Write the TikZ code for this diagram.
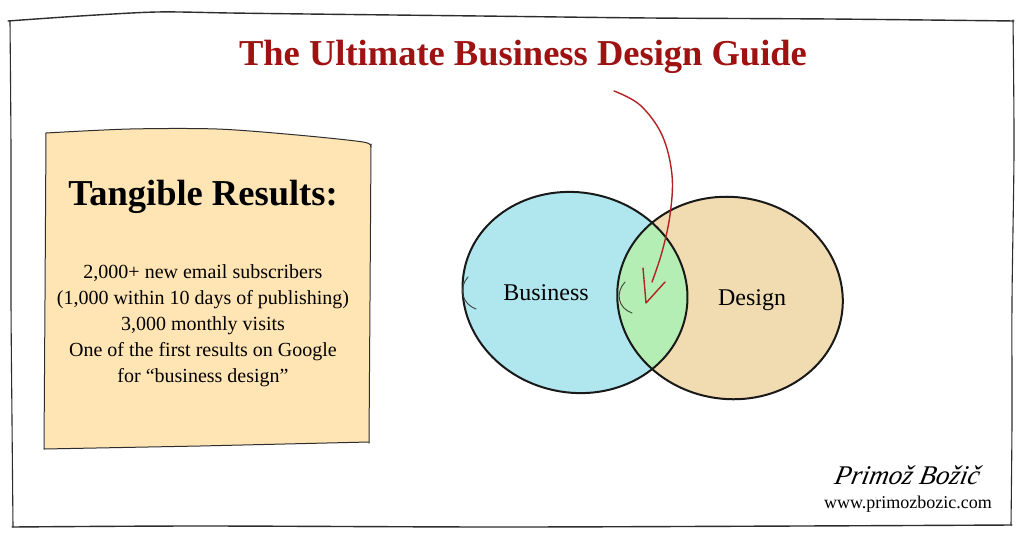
\documentclass[tikz,border=0pt]{standalone}
\usepackage{fontspec}
\setmainfont{Liberation Serif}
\usetikzlibrary{calc}
\definecolor{titlered}{RGB}{158,18,18}
\definecolor{arrowred}{RGB}{178,34,34}
\definecolor{boxyellow}{RGB}{255,229,180}
\definecolor{bizblue}{RGB}{176,230,238}
\definecolor{destan}{RGB}{240,220,176}
\definecolor{lensgreen}{RGB}{180,238,180}
\definecolor{ink}{RGB}{45,45,45}
\tikzset{
  sketch/.style={draw=ink, line width=1.4pt, line join=round, line cap=round},
  blob/.style={draw=black!90, line width=2pt},
  redline/.style={draw=arrowred, line width=1.4pt, line cap=round, line join=round},
  tick/.style={draw=black!75, line width=0.9pt, line cap=round},
  lbl/.style={inner sep=0pt, anchor=base},
}
\begin{document}
\begin{tikzpicture}[x=1pt,y=-1pt]
\useasboundingbox (0,0) rectangle (1024,538);
\fill[white] (0,0) rectangle (1024,538);

% outer sketchy frame
\draw[sketch] plot[smooth, tension=0.5] coordinates {(8,21) (80,16) (157,12) (230,13) (307,14) (480,16) (650,18) (830,19) (1014,21)};
\draw[sketch, line width=1.1pt] plot[smooth, tension=0.5] coordinates {(10,21) (11,150) (11,300) (12,420) (13,527)};
\draw[sketch, line width=1.1pt] plot[smooth, tension=0.5] coordinates {(1013,20) (1014,150) (1012,300) (1012,420) (1011,525)};
\draw[sketch] plot[smooth, tension=0.5] coordinates {(12,527) (200,526) (500,527) (800,526) (1012,525)};

% title
\node[lbl, text=titlered, font=\bfseries\fontsize{36.5}{44}\selectfont] (title) at (523,65) {The Ultimate Business Design Guide};

% yellow sticky note
\fill[boxyellow] plot[smooth, tension=0.5] coordinates {(46,133) (130,129) (217,129) (297,135) (363,142) (370,146)} -- (369,442) -- (45,449) -- cycle;
\draw[sketch, line width=1pt] plot[smooth, tension=0.5] coordinates {(46,133) (130,129) (217,129) (297,135) (363,142) (371,147)};
\draw[sketch, line width=1pt] (371,144) -- (370,300) -- (369,443);
\draw[sketch, line width=1pt] (369,442) -- (200,446) -- (44,449);
\draw[sketch, line width=1pt] (46,133) -- (45,300) -- (44,449);

\node[lbl, font=\bfseries\fontsize{36.5}{42}\selectfont] (tangible) at (203,205) {Tangible Results:};
\node[inner sep=0pt, align=center, font=\fontsize{20}{26}\selectfont] (results) at (203,326)
  {2,000+ new email subscribers\\(1,000 within 10 days of publishing)\\3,000 monthly visits\\One of the first results on Google\\for “business design”};

% Venn diagram
\coordinate (bc) at (575,292.5);
\coordinate (dc) at (730,298);
\fill[bizblue] (bc) ellipse[x radius=113, y radius=100, rotate=-12];
\fill[destan] (dc) ellipse[x radius=113, y radius=101, rotate=-8];
\begin{scope}
  \clip (bc) ellipse[x radius=113, y radius=100, rotate=-12];
  \fill[lensgreen] (dc) ellipse[x radius=113, y radius=101, rotate=-8];
\end{scope}
\draw[blob] (bc) ellipse[x radius=113, y radius=100, rotate=-12];
\draw[blob] (dc) ellipse[x radius=113, y radius=101, rotate=-8];

% little sketch ticks
\draw[tick] (468,277) .. controls (458,288) and (462,304) .. (476,309);
\draw[tick] (625,282) .. controls (615,293) and (618,308) .. (632,313);

\node[lbl, font=\fontsize{24}{28}\selectfont] (business) at (546,300) {Business};
\node[lbl, font=\fontsize{24}{28}\selectfont] (design) at (752,305) {Design};

% red arrow
\coordinate (astart) at (614,91);
\coordinate (atip) at (646,303);
\draw[redline] plot[smooth, tension=0.6] coordinates {(astart) (640,105) (662,135) (672,175) (670,215) (662,252) (652,282)};
\draw[redline] (643,268) -- (atip) -- (665,282);

% signature and website
\node[lbl, font=\itshape\fontsize{27}{30}\selectfont, xslant=0.2] (sig) at (906,484) {Primož Božič};
\node[lbl, font=\fontsize{18}{22}\selectfont] (web) at (908,508) {www.primozbozic.com};
\end{tikzpicture}
\end{document}
